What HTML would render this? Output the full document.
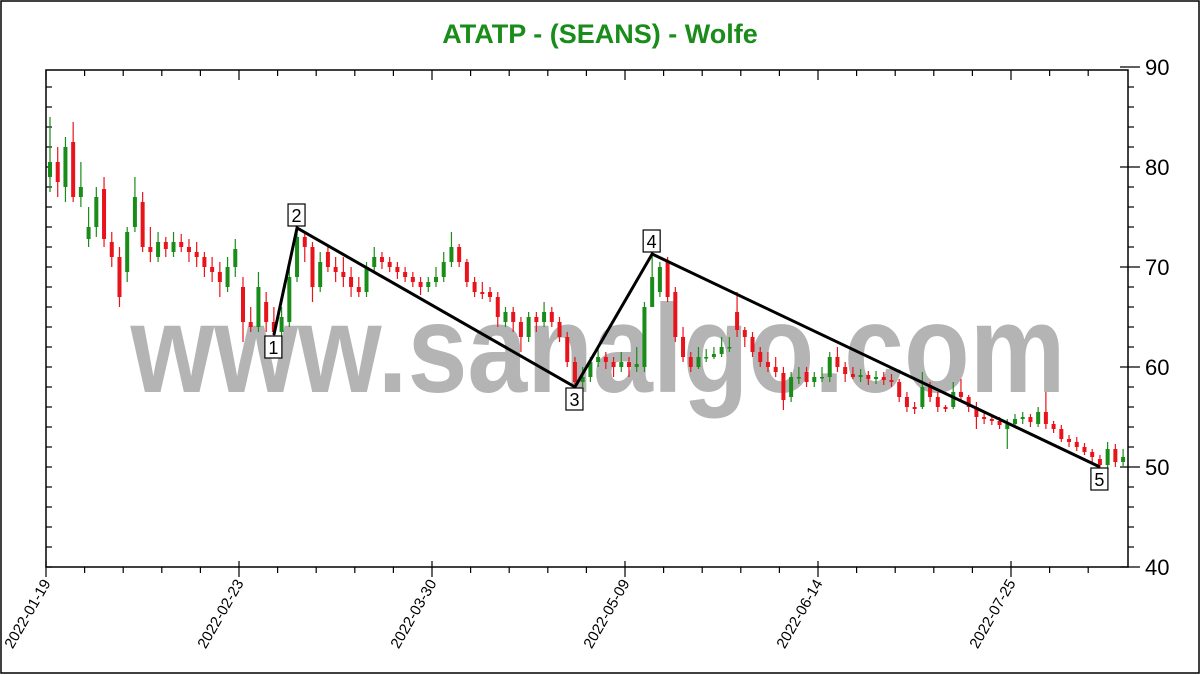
<!DOCTYPE html>
<html><head><meta charset="utf-8"><style>
html,body{margin:0;padding:0;background:#fff;}
svg{display:block;font-family:"Liberation Sans",Arial,sans-serif;}
</style></head><body>
<svg id="chart" width="1200" height="675" viewBox="0 0 1200 675">
<rect x="1" y="1" width="1198" height="672" fill="#fff" stroke="#000" stroke-width="1.5"/>
<text x="600" y="43" text-anchor="middle" font-size="27" font-weight="bold" fill="#1a8c1a">ATATP - (SEANS) - Wolfe</text>
<text x="598" y="392" text-anchor="middle" font-size="125" font-weight="bold" fill="#b4b4b4" textLength="935" lengthAdjust="spacingAndGlyphs">www.sanalgo.com</text>
<g id="axes"></g>
<g id="candles"></g>
<g id="wolfe"></g>
</svg>
<script>
const opens=[79,80.5,78,82.5,77,72.8,74,77.8,72.5,71,69.5,74,76.5,72,71,72.5,71.5,72.5,72,71.5,71,70,69.5,68,70,68,64.5,64,66.5,64.5,63.5,64.5,69,73,72,68,71.5,70,69.5,69,68,67.5,70,71,70.5,70,69.5,69,68.5,68,68.5,69,70.5,72,70.5,68.5,67.5,67.5,67,64.5,65.5,64.5,63,65,64.5,65.5,64.5,63,60.5,58.5,59,60.5,61,60.5,60,60.5,60,60,66,67.5,70.5,67.5,63,61,60,61,61,61.3,62,65.5,63.7,63,61.5,60.5,60,59.4,57,59,59.5,58.5,59,59,61,60,59.3,59,59.2,58.8,59,58.7,58.5,57,56,56,58.2,57,56,56,57.5,57,56,55,54.8,54.6,53.8,54.3,54.8,55,54.3,55.5,54.3,53.8,52.8,52.5,52,51.5,50.8,50.2,51.8,50.5];
const closes=[80.5,78.5,82,77,78,74,77,72.8,71,67,73.5,77,72,71.5,72.5,71.8,72.5,72,71.5,71,70,69.5,68.5,70,71.8,64.5,64,68,64.5,63.5,65,69,73,72,68,70.5,70,69.5,69,68,67.5,70,71,70.5,70,69.5,69,68.5,68,68.5,69,70.5,72,70.5,68.5,67.5,67.3,67,65,65.5,64.5,63,65,64.5,65.5,64.5,63,60.5,58.5,59,60.5,61,60.5,60,60.5,60,60.3,66,69,70,67,63,61,60,61,61,61.3,62,62,63.7,63,61.5,60.5,60,59.5,56.7,59,59,58.5,59,59,61,60,59.3,59,59.2,58.8,59,58.7,58.5,57,56,55.8,58,57,56,55.8,57.5,57,56,55,54.8,54.6,54.2,54.3,54.8,55,54.5,55.5,54.3,53.8,52.8,52.5,52,51.5,51,50.2,51.8,50.5,51];
const highs=[85,82,83,84.5,80.5,76,78,79,73.5,72,74,79,77.5,74,73.5,73,73.5,73.3,72.8,72.5,71.5,71,70.5,71,72.8,69,66,69.5,67.5,66,66,70,74,73.5,72.5,71.5,72,71,71,70,69,70.5,72,71.5,71,70.5,70,69.5,69,69,70,71.5,73.5,72.3,70.8,69,68.5,68,67.5,66,66,65,65.5,65.5,66.5,66,65,63.5,61,60,61,62,61.5,61,61.5,61,62,66.5,71.3,70.5,71,68,64,61.5,62,61.8,62,63,63,67.5,64,63.5,62,61.5,61,60,59.5,60,60,59.5,60,61.5,62,60.5,60,59.8,59.6,59.6,59.5,59.3,58.8,57.5,56.5,59.5,58.5,57.5,56.2,58.5,58.8,57.2,56.5,55.5,55.2,55,54.8,55.3,55.5,55.3,56,57.5,54.6,54.2,53.2,53,52.4,51.8,51.2,52.5,52.3,51.8];
const lows=[77.5,77,76.5,76.5,76,72,73,72,70,66,68.5,73.5,71.5,70.5,70.5,71,71,71.5,70.5,70,69,68.5,67,67.5,69,62.5,63.5,63.5,63.5,62.7,63,64,68.5,70.5,66.5,67.5,69.5,68.5,68,67,67,67,69.5,69.8,69.5,68.8,68.5,68,67.2,67.5,68,68.5,70,70,68,67,66.8,66.5,64,64,63.5,61.5,62.5,63.5,64,64,62.5,60,58,58,58.5,60,59.8,59,59.5,59,59.5,59.5,66,67,66.5,62.5,60.5,59.5,59.8,60.5,60.8,61,61.5,63,62,61,60,59.5,59,55.7,56.5,58.3,58,58,58.5,58.5,59.5,58.5,58.8,58.5,58.2,58.3,58.2,58,56.5,55.5,55.3,55.8,56.5,55.5,55.5,55.8,56.5,55.5,53.8,54.3,54.2,53.8,51.8,54,54.3,54,54,53.8,53.4,52.5,52,51.6,51.2,50.5,49.8,49.8,50,50];
const dateLabels=["2022-01-19","2022-02-23","2022-03-30","2022-05-09","2022-06-14","2022-07-25"];
const yTicks=[40,50,60,70,80,90];
const wolfeIdx=[29,32,68,78,136];
const wolfePrice=[63.2,73.9,58.0,71.3,50.0];
const wolfeLabels=["1","2","3","4","5"];

const NS="http://www.w3.org/2000/svg";
const X0=46,X1=1128,Ytop=70,Ybot=567,STEP=7.72;
function xs(i){return 50+STEP*i;}
function ys(p){return Ybot-(p-40)*10;}
function mk(tag,attrs,parent){const e=document.createElementNS(NS,tag);for(const k in attrs)e.setAttribute(k,attrs[k]);parent.appendChild(e);return e;}
const ax=document.getElementById('axes');
let ln;
ln=mk('path',{d:`M${X0},${Ytop}H${X1}V${Ybot}H${X0}Z`,fill:'none',stroke:'#000','stroke-width':1.5},ax);


for(let v=40;v<=90;v+=2){
  const y=ys(v);const major=v%10===0;
  ln=mk('line',{x1:major?X1-8:X1,x2:major?X1+12:X1+6,y1:y,y2:y,stroke:'#000','stroke-width':1.2},ax);
  
  
  if(y>Ytop+2){
    ln=mk('line',{x1:X0,x2:X0+6,y1:y,y2:y,stroke:'#000','stroke-width':1.2},ax);
    
    
  }
}
yTicks.forEach(v=>{
  const t=mk('text',{x:1145,y:ys(v)+8,'font-size':22,fill:'#000'},ax);t.textContent=v;
  
  
});
for(let k=0;k*5<closes.length;k++){
  const x=X0+k*5*STEP;if(x>X1)break;const major=k%5===0;
  ln=mk('line',{x1:x,x2:x,y1:Ybot-(major?6:0),y2:Ybot+(major?10:6),stroke:'#000','stroke-width':1.2},ax);
  
  
  ln=mk('line',{x1:x,x2:x,y1:Ytop,y2:Ytop+(major?10:6),stroke:'#000','stroke-width':1.2},ax);
  
  
}
dateLabels.forEach((d,j)=>{
  const x=X0+j*25*STEP+5;
  const t=mk('text',{x:x,y:583,'font-size':15,'text-anchor':'end',fill:'#000',transform:`rotate(-60 ${x} 583)`},ax);t.textContent=d;
  
  
});
const cg=document.getElementById('candles');
closes.forEach((c,i)=>{
  const o=opens[i],up=c>=o,col=up?'#1a8c1a':'#e8141b',x=xs(i);
  const g=mk('g',{},cg);
  
  
  mk('line',{x1:x,x2:x,y1:ys(highs[i]),y2:ys(lows[i]),stroke:col,'stroke-width':1.2},g);
  const top=ys(Math.max(o,c)),h=Math.max(1.5,Math.abs(ys(o)-ys(c)));
  mk('rect',{x:x-2,y:top,width:4,height:h,fill:col},g);
});
const wg=document.getElementById('wolfe');
const pts=wolfeIdx.map((ix,k)=>[xs(ix),ys(wolfePrice[k])]);
ln=mk('polyline',{points:pts.map(p=>p.join(',')).join(' '),fill:'none',stroke:'#000','stroke-width':3},wg);


pts.forEach((p,k)=>{
  const above=(k%2===1);const bx=p[0]-9,by=above?p[1]-24:p[1]+1;
  const g=mk('g',{},wg);
  
  
  mk('rect',{x:bx,y:by,width:17,height:22,fill:'#fff',stroke:'#000','stroke-width':1.2},g);
  const t=mk('text',{x:bx+8.5,y:by+18,'font-size':18,'text-anchor':'middle',fill:'#000'},g);t.textContent=wolfeLabels[k];
});
</script>
</body></html>
